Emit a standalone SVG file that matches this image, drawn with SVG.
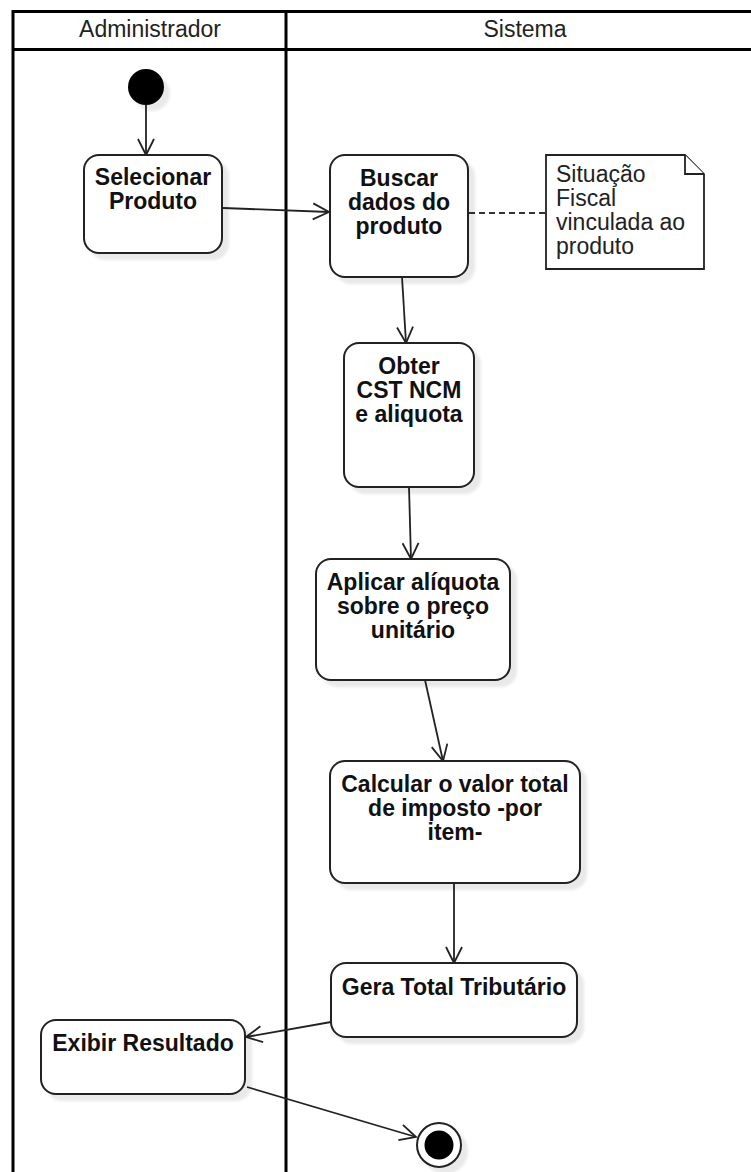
<svg xmlns="http://www.w3.org/2000/svg" width="751" height="1172" viewBox="0 0 751 1172">
<style>
.pool{fill:none;stroke:#000;stroke-width:3}
.hdr{font-family:"Liberation Sans",Arial,sans-serif;font-size:23px;fill:#222;text-anchor:middle}
.node{fill:#fff;stroke:#222;stroke-width:2}
.lbl{font-family:"Liberation Sans",Arial,sans-serif;font-size:23px;font-weight:bold;fill:#111;text-anchor:middle}
.note{fill:#fff;stroke:#222;stroke-width:1.8}
.ntxt{font-family:"Liberation Sans",Arial,sans-serif;font-size:23px;fill:#222}
.edge{fill:none;stroke:#222;stroke-width:1.8}
.dash{fill:none;stroke:#333;stroke-width:2;stroke-dasharray:6 4}
</style>
<defs>
<filter id="sh" x="-20%" y="-20%" width="160%" height="160%">
<feGaussianBlur in="SourceAlpha" stdDeviation="1.8"/>
<feOffset dx="6" dy="6"/>
<feComponentTransfer><feFuncA type="linear" slope="0.09"/></feComponentTransfer>
<feMerge><feMergeNode/><feMergeNode in="SourceGraphic"/></feMerge>
</filter>
<marker id="arr" viewBox="0 0 20 20" refX="18" refY="10" markerWidth="20" markerHeight="20" markerUnits="userSpaceOnUse" orient="auto">
<path d="M2,2 L18,10 L2,18" fill="none" stroke="#222" stroke-width="1.8"/>
</marker>
</defs>
<rect width="751" height="1172" fill="#fff"/>
<g id="pool">
<rect class="pool" x="13" y="11.5" width="760" height="1200"/>
<line class="pool" x1="13" y1="49.5" x2="773" y2="49.5"/>
<line class="pool" x1="286" y1="11.5" x2="286" y2="1172"/>
<text class="hdr" x="150" y="37">Administrador</text>
<text class="hdr" x="525" y="37">Sistema</text>
</g>
<g id="connectors">
<line class="edge" x1="146" y1="105" x2="146" y2="155" marker-end="url(#arr)"/>
<line class="edge" x1="223" y1="208" x2="329" y2="212" marker-end="url(#arr)"/>
<line class="dash" x1="469" y1="213" x2="546" y2="213"/>
<line class="edge" x1="402" y1="277" x2="406" y2="343" marker-end="url(#arr)"/>
<line class="edge" x1="409" y1="487" x2="411" y2="559" marker-end="url(#arr)"/>
<line class="edge" x1="425" y1="680" x2="443" y2="761" marker-end="url(#arr)"/>
<line class="edge" x1="454" y1="883" x2="454" y2="963" marker-end="url(#arr)"/>
<line class="edge" x1="331" y1="1022" x2="246" y2="1037" marker-end="url(#arr)"/>
<line class="edge" x1="247" y1="1087" x2="416" y2="1137" marker-end="url(#arr)"/>
</g>
<g id="start">
<circle cx="146" cy="87" r="18" fill="#000" filter="url(#sh)"/>
</g>
<g id="selecionar">
<rect class="node" x="84" y="155" width="138" height="98" rx="15" filter="url(#sh)"/>
<text class="lbl" x="153" y="185">Selecionar</text>
<text class="lbl" x="153" y="209">Produto</text>
</g>
<g id="buscar">
<rect class="node" x="330" y="155" width="138" height="122" rx="15" filter="url(#sh)"/>
<text class="lbl" x="399" y="186">Buscar</text>
<text class="lbl" x="399" y="210">dados do</text>
<text class="lbl" x="399" y="234">produto</text>
</g>
<g id="nota">
<path class="note" d="M546,155 L685,155 L704,174 L704,269 L546,269 Z"/>
<path class="note" d="M685,155 L685,174 L704,174"/>
<text class="ntxt" x="556" y="182">Situação</text>
<text class="ntxt" x="556" y="206">Fiscal</text>
<text class="ntxt" x="556" y="230">vinculada ao</text>
<text class="ntxt" x="556" y="254">produto</text>
</g>
<g id="obter">
<rect class="node" x="344" y="343" width="130" height="144" rx="15" filter="url(#sh)"/>
<text class="lbl" x="409" y="374">Obter</text>
<text class="lbl" x="409" y="398">CST NCM</text>
<text class="lbl" x="409" y="422">e aliquota</text>
</g>
<g id="aplicar">
<rect class="node" x="316" y="559" width="194" height="121" rx="15" filter="url(#sh)"/>
<text class="lbl" x="413" y="590">Aplicar alíquota</text>
<text class="lbl" x="413" y="614">sobre o preço</text>
<text class="lbl" x="413" y="638">unitário</text>
</g>
<g id="calcular">
<rect class="node" x="330" y="761" width="250" height="122" rx="15" filter="url(#sh)"/>
<text class="lbl" x="455" y="792">Calcular o valor total</text>
<text class="lbl" x="455" y="816">de imposto -por</text>
<text class="lbl" x="455" y="840">item-</text>
</g>
<g id="gera">
<rect class="node" x="331" y="963" width="246" height="74" rx="15" filter="url(#sh)"/>
<text class="lbl" x="454" y="995">Gera Total Tributário</text>
</g>
<g id="exibir">
<rect class="node" x="41" y="1020" width="204" height="74" rx="15" filter="url(#sh)"/>
<text class="lbl" x="143" y="1051">Exibir Resultado</text>
</g>
<g id="end">
<circle cx="439" cy="1145" r="22" fill="#fff" stroke="#222" stroke-width="2" filter="url(#sh)"/>
<circle cx="439" cy="1145" r="14.5" fill="#000"/>
</g>
</svg>
